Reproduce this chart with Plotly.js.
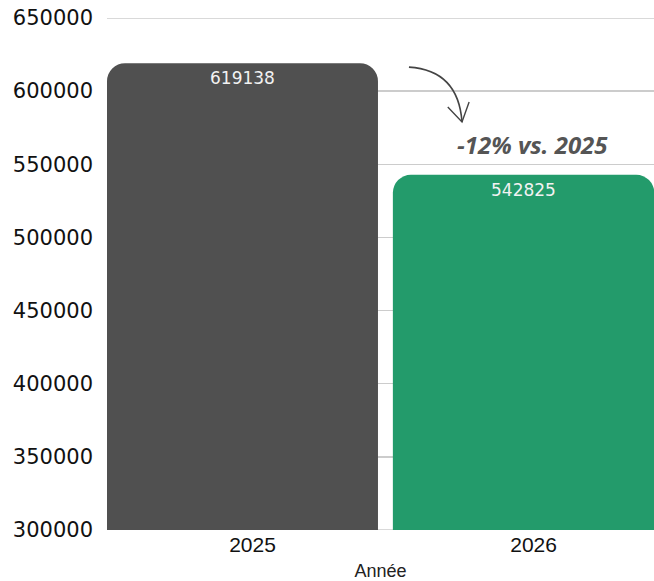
<!DOCTYPE html>
<html>
<head>
<meta charset="utf-8">
<script src="https://cdn.plot.ly/plotly-3.0.1.min.js"></script>
<style>html,body{margin:0;padding:0;background:#fff;}#chart{width:654px;height:581px;}</style>
</head>
<body>
<div id="chart"></div>
<script>
const years = ['2025', '2026'];
const values = [619138, 542825];
const barColors = ['#505050', '#239b6b'];
const yTicks = [300000, 350000, 400000, 450000, 500000, 550000, 600000, 650000];
const changeLabel = '-12% vs. 2025';
const xTitle = 'Année';

const bars = {
  type: 'bar',
  x: years,
  y: values,
  marker: {color: barColors, cornerradius: 18},
  width: [0.964, 0.93],
  hoverinfo: 'none'
};

// category axes place annotations by category index
const valueAnnotations = years.map((yr, i) => ({
  xref: 'x', yref: 'y',
  x: i, y: values[i],
  text: String(values[i]),
  showarrow: false,
  yanchor: 'top',
  yshift: -3,
  font: {family: 'DejaVu Sans', size: 17, color: '#f2f2f2'}
}));

const edgeGrid = [yTicks[0], yTicks[yTicks.length - 1]].map(v => ({
  type: 'line', xref: 'paper', yref: 'y',
  x0: 0, x1: 1, y0: v, y1: v,
  layer: 'below',
  line: {color: '#cccccc', width: 1.5}
}));

const layout = {
  width: 654,
  height: 581,
  margin: {l: 107, r: 0, t: 18, b: 51},
  paper_bgcolor: '#ffffff',
  plot_bgcolor: '#ffffff',
  showlegend: false,
  xaxis: {
    type: 'category',
    range: [-0.482, 1.464],
    showgrid: false,
    zeroline: false,
    showline: false,
    ticks: '',
    ticklabelshift: 10,
    tickfont: {family: 'Liberation Sans', size: 21, color: '#111'},
    title: {text: xTitle, font: {family: 'Liberation Sans', size: 18, color: '#222'}, standoff: 10}
  },
  yaxis: {
    range: [300000, 650000],
    tickvals: yTicks,
    ticktext: yTicks.map(v => String(v)),
    showgrid: true,
    gridcolor: '#cccccc',
    gridwidth: 1.5,
    zeroline: false,
    showline: false,
    ticks: '',
    ticklabelstandoff: 13,
    tickfont: {family: 'DejaVu Sans', size: 21, color: '#111'}
  },
  annotations: valueAnnotations.concat([{
    xref: 'paper', yref: 'paper',
    x: 0.777, y: 0.752,
    text: '<b><i>' + changeLabel + '</i></b>',
    showarrow: false,
    font: {family: 'Open Sans', size: 24, color: '#555555'},
    xanchor: 'center', yanchor: 'middle'
  }]),
  shapes: edgeGrid.concat([
    {type: 'path', xref: 'paper', yref: 'paper',
     path: 'M 0.552 0.904 Q 0.642 0.898 0.649 0.797',
     line: {color: '#444', width: 1.6}},
    {type: 'path', xref: 'paper', yref: 'paper',
     path: 'M 0.623 0.826 L 0.649 0.797 L 0.662 0.836',
     line: {color: '#444', width: 1.4}}
  ])
};

Plotly.newPlot('chart', [bars], layout, {displayModeBar: false, staticPlot: true});
</script>
</body>
</html>
